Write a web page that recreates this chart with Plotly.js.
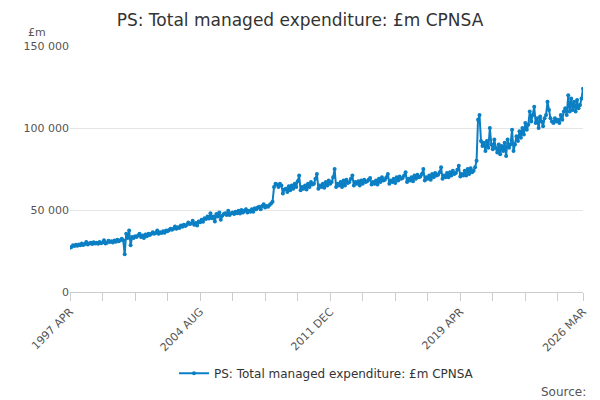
<!DOCTYPE html>
<html lang="en">
<head>
    <meta charset="UTF-8">
    <title>PS: Total managed expenditure</title>
    <script src="https://cdn.plot.ly/plotly-3.0.1.min.js"></script>
    <style>body{margin:0}</style>
</head>
<body>
<div id="plot" style="width:600px;height:400px"></div>
<script>
    // fiscal years April..March, values in £m thousands
    let fy1997 = [27, 27.5, 28.5, 28, 28.8, 28.2, 29, 28.5, 29.6, 28.7, 29.2, 30.5]
    let fy1998 = [29, 29.5, 30, 29.2, 30.4, 29.6, 30, 29.4, 30.5, 29.8, 30.2, 31.5]
    let fy1999 = [29.5, 30, 31.2, 30.5, 31, 30.2, 31.4, 30.6, 31.8, 31, 31.5, 32.5]
    let fy2000 = [31.5, 23, 35.5, 33, 37.5, 28.5, 33.5, 33, 34, 33.5, 34.5, 35.5]
    let fy2001 = [33.5, 34.5, 33, 35, 34, 35.5, 34.8, 35.5, 36.5, 35.5, 36, 37.5]
    let fy2002 = [35.5, 36.5, 36, 37, 36.2, 37.5, 37, 37.8, 38.6, 38, 38.5, 40]
    let fy2003 = [38.5, 39.5, 39, 40.5, 39.8, 41, 40.2, 41, 42.4, 41.5, 41.8, 43.5]
    let fy2004 = [41, 42, 40.5, 43, 42.5, 44, 42.8, 45, 44.5, 46, 44.8, 48]
    let fy2005 = [45, 46, 43, 47.5, 46, 48.5, 44, 46.5, 47.5, 48, 47, 49.5]
    let fy2006 = [47, 48, 48.5, 47.5, 49, 48, 49.5, 47.8, 50, 48.5, 49.5, 50.5]
    let fy2007 = [48.5, 49.5, 49, 50.5, 49, 51, 50.5, 51.5, 52, 50.5, 52.5, 53.5]
    let fy2008 = [51.5, 52.5, 52, 53, 54, 55, 64, 66, 65.5, 64, 66, 65]
    let fy2009 = [60, 62.5, 63, 61, 64.5, 62, 65, 63, 66, 64, 67.5, 71]
    let fy2010 = [62, 64, 63, 65, 62.5, 66, 64, 67, 65.5, 66, 69, 72]
    let fy2011 = [63, 65, 64, 66, 63.5, 67, 65, 68, 66, 67, 70, 75]
    let fy2012 = [64, 66, 65, 67, 64, 68, 65, 68.5, 66.5, 67, 69, 71]
    let fy2013 = [65, 67, 66, 67.5, 65, 68, 66, 68.5, 67, 67.5, 68.5, 69.5]
    let fy2014 = [65.5, 67, 66, 68, 65.5, 69, 67, 70, 68, 68.5, 70, 72]
    let fy2015 = [66, 68, 67, 69, 66.5, 70, 68, 70.5, 69, 69.5, 71, 73]
    let fy2016 = [67, 69, 68, 70, 67.5, 71, 69, 71.5, 70, 70.5, 72, 75]
    let fy2017 = [68, 70, 69, 71, 68.5, 72, 70, 72.5, 71, 71.5, 73, 76]
    let fy2018 = [69, 71, 70, 72.5, 70, 73, 71, 74, 72, 72.5, 74.5, 77]
    let fy2019 = [70.5, 72, 71, 74, 71, 75, 72, 75.5, 73, 74, 76, 80]
    let fy2020 = [105, 108, 92, 89, 91, 86, 92, 88, 100, 90, 87, 93]
    let fy2021 = [88, 85, 90, 84, 89, 86, 91, 83, 93, 88, 90, 99]
    let fy2022 = [86, 90, 95, 92, 98, 94, 100, 96, 103, 99, 102, 110]
    let fy2023 = [104, 108, 113, 103, 106, 100, 107, 104, 101, 106, 108, 116]
    let fy2024 = [111, 106, 104, 103, 106, 104, 105, 103, 108, 105, 110, 112]
    let fy2025 = [108, 120, 110, 118, 111, 116, 110, 117, 112, 114, 118, 124]

    let years = [fy1997, fy1998, fy1999, fy2000, fy2001, fy2002, fy2003, fy2004, fy2005, fy2006,
        fy2007, fy2008, fy2009, fy2010, fy2011, fy2012, fy2013, fy2014, fy2015, fy2016,
        fy2017, fy2018, fy2019, fy2020, fy2021, fy2022, fy2023, fy2024, fy2025]
    let monthNames = ["APR", "MAY", "JUN", "JUL", "AUG", "SEP", "OCT", "NOV", "DEC", "JAN", "FEB", "MAR"]

    let labels = []
    let values = []
    years.forEach((fy, i) => {
        fy.forEach((v, m) => {
            let yr = 1997 + i + (m >= 9 ? 1 : 0)
            labels.push(yr + " " + monthNames[m])
            values.push(v * 1000)
        })
    })

    let tickIdx = []
    for (let i = 0; i < labels.length - 10; i += 22) tickIdx.push(i)
    tickIdx.push(labels.length - 1)
    let shown = [0, 88, 176, 264, labels.length - 1]
    let tickvals = tickIdx.map(i => labels[i])
    let ticktext = tickIdx.map(i => shown.includes(i) ? labels[i] : "")

    let data = [{
        x: labels,
        y: values,
        type: "scatter",
        mode: "lines+markers",
        name: "PS: Total managed expenditure: £m CPNSA",
        line: {color: "#0b7fc4", width: 2},
        marker: {color: "#0b7fc4", size: 4}
    }]

    let layout = {
        width: 600, height: 400,
        font: {family: "DejaVu Sans", size: 11, color: "#555"},
        separators: ". ",
        title: {text: "PS: Total managed expenditure: £m CPNSA", font: {size: 17, color: "#333"}, x: 0.5, y: 0.965},
        margin: {l: 70, r: 17, t: 46, b: 108},
        xaxis: {
            type: "category", tickvals: tickvals, ticktext: ticktext, tickangle: -45,
            ticks: "outside", ticklen: 8, tickcolor: "#ccc", showgrid: false,
            showline: true, linecolor: "#ccc", range: [0, labels.length - 1], automargin: false
        },
        yaxis: {
            range: [0, 150000], dtick: 50000, tickformat: ",d", gridcolor: "#e6e6e6",
            zeroline: false, ticks: "", ticklen: 0, automargin: false
        },
        showlegend: true,
        legend: {orientation: "h", x: 0.5, xanchor: "center", yref: "container", y: 0.067, yanchor: "middle", font: {size: 12, color: "#333"}},
        annotations: [
            {text: "£m", xref: "paper", yref: "paper", x: -0.085, y: 1.02, xanchor: "left", yanchor: "bottom", showarrow: false, font: {size: 11, color: "#555"}},
            {text: "Source:", xref: "paper", yref: "paper", x: 1.01, y: -0.37, xanchor: "right", yanchor: "top", showarrow: false, font: {size: 12, color: "#555"}}
        ]
    }

    Plotly.newPlot("plot", data, layout, {displayModeBar: false})
</script>
</body>
</html>
